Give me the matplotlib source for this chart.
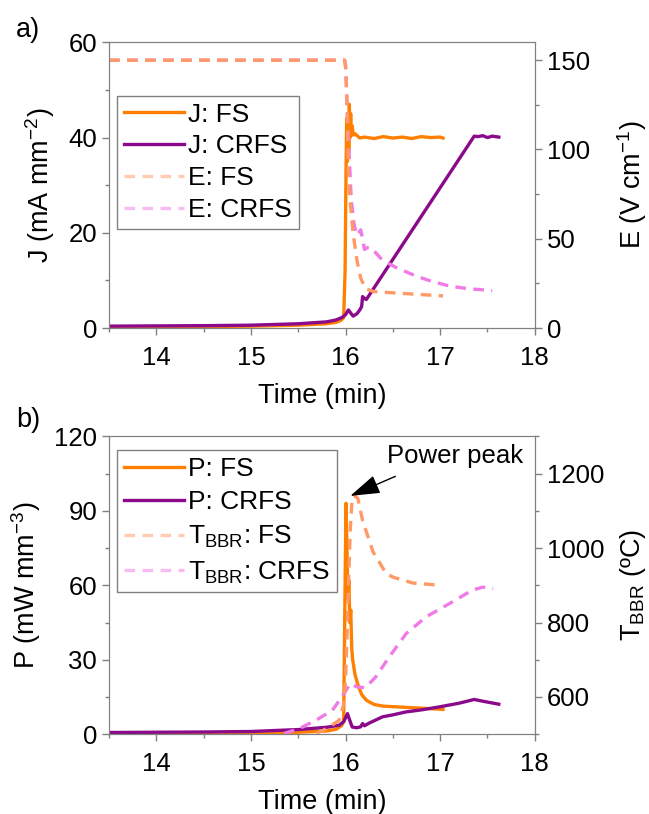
import matplotlib
matplotlib.use('Agg')
import matplotlib.pyplot as plt
from matplotlib.ticker import MultipleLocator

plt.rcParams['font.family'] = ['Liberation Sans', 'DejaVu Sans']
plt.rcParams['mathtext.fontset'] = 'custom'
plt.rcParams['mathtext.rm'] = 'Liberation Sans'
plt.rcParams['mathtext.it'] = 'Liberation Sans:italic'
plt.rcParams['mathtext.default'] = 'regular'

# a) 电流密度 J 和电场 E
j_fs_t = [13.5, 14.0, 14.5, 15.0, 15.5, 15.8, 15.9, 15.95, 15.98, 15.995, 16.005, 16.012, 16.02, 16.027,
          16.034, 16.04, 16.047, 16.054, 16.06, 16.07, 16.08, 16.1, 16.15, 16.2, 16.3, 16.4, 16.5, 16.6,
          16.7, 16.8, 16.9, 17.0, 17.03]
j_fs = [0.2, 0.25, 0.3, 0.4, 0.6, 0.9, 1.2, 1.6, 2.2, 12, 33, 44, 35, 45, 37, 47, 40, 45, 41, 42.5, 40.5,
        40.8, 39.9, 40.1, 39.8, 40.2, 39.9, 40.1, 39.8, 40.2, 40.0, 40.1, 39.9]

j_crfs_t = [13.5, 14.0, 14.5, 15.0, 15.5, 15.8, 15.9, 15.96, 16.0, 16.03, 16.06, 16.08, 16.12, 16.15,
            16.17, 16.18, 16.2, 16.22, 17.36, 17.4, 17.45, 17.5, 17.55, 17.62]
j_crfs = [0.4, 0.45, 0.5, 0.6, 0.9, 1.3, 1.7, 2.2, 2.8, 3.8, 3.0, 2.5, 3.0, 3.8, 4.5, 6.6, 6.2, 6.0,
          40.3, 40.2, 40.4, 40.0, 40.3, 40.1]

e_fs_t = [13.5, 15.99, 16.0, 16.01, 16.02, 16.03, 16.05, 16.08, 16.12, 16.16, 16.21, 16.3, 16.57, 17.03]
e_fs = [150, 150, 146, 135, 115, 85, 70, 53, 38, 28, 22, 20.4, 19.5, 18]

e_crfs_t = [13.5, 15.99, 16.0, 16.02, 16.04, 16.06, 16.09, 16.12, 16.16, 16.18, 16.2, 16.23, 16.27,
            16.39, 16.53, 16.75, 16.92, 17.1, 17.3, 17.55]
e_crfs = [150, 150, 147, 120, 95, 72, 58, 52, 55, 50, 44, 45, 45, 38, 34, 29, 26, 23.5, 22, 21]

# b) 功率密度 P 和温度 T_BBR
p_fs_t = [13.5, 14.0, 14.5, 15.0, 15.5, 15.8, 15.9, 15.96, 15.98, 15.995, 16.005, 16.015, 16.025,
          16.035, 16.045, 16.055, 16.065, 16.075, 16.1, 16.13, 16.17, 16.22, 16.3, 16.4, 16.7, 17.03]
p_fs = [0.3, 0.3, 0.4, 0.5, 0.8, 1.3, 2.0, 3.5, 5.5, 60, 93, 75, 55, 62, 45, 50, 35, 30, 24, 20, 16,
        13.7, 12, 11.3, 10.7, 10]

p_crfs_t = [13.5, 14.0, 14.5, 15.0, 15.51, 15.8, 15.93, 15.98, 16.02, 16.05, 16.07, 16.12, 16.16,
            16.18, 16.2, 16.25, 16.39, 16.5, 16.64, 16.8, 16.99, 17.2, 17.36, 17.45, 17.62]
p_crfs = [0.7, 0.8, 0.9, 1.1, 1.9, 2.8, 3.6, 5.0, 8.3, 5.0, 2.9, 2.6, 3.0, 4.3, 3.4, 4.5, 7.0, 7.8,
          9.0, 9.8, 11.0, 12.5, 14.0, 13.3, 12.1]

t_fs_t = [15.69, 15.8, 15.93, 15.98, 16.0, 16.02, 16.03, 16.05, 16.07, 16.1, 16.13, 16.18, 16.29,
          16.43, 16.5, 16.71, 17.0]
t_fs = [502, 515, 537, 580, 645, 800, 895, 1050, 1137, 1140, 1133, 1074, 990, 931, 922, 906, 900]

t_crfs_t = [15.35, 15.51, 15.69, 15.86, 15.96, 16.05, 16.12, 16.21, 16.32, 16.46, 16.64, 16.85,
            17.1, 17.34, 17.45, 17.56]
t_crfs = [502, 515, 538, 564, 600, 636, 627, 625, 654, 707, 770, 815, 851, 887, 895, 891]

c_fs = '#ff8000'
c_crfs = '#8b0a8b'
c_fs2 = '#ff9966'
c_crfs2 = '#f07ae6'
grey = '#808080'
fs = 18.5
lfs = 19.5
dash = (0, (3.2, 2.2))
leg_kw = dict(loc='upper left', fontsize=19, frameon=True, fancybox=False, edgecolor=grey,
              framealpha=1, handlelength=2.3, handletextpad=0.15, borderpad=0.25,
              borderaxespad=0.3)

fig = plt.figure(figsize=(6.49, 8.14), dpi=100)
ax1 = fig.add_axes([0.168, 0.597, 0.656, 0.351])
ax3 = fig.add_axes([0.168, 0.098, 0.656, 0.366])


def style(ax, ax2):
    for a in (ax, ax2):
        for s in a.spines.values():
            s.set_color(grey)
        a.tick_params(which='both', direction='out', color=grey, labelsize=fs)
        a.tick_params(which='major', length=5, width=1)
        a.tick_params(which='minor', length=3, width=1)
    ax.tick_params(axis='x', which='major', pad=8)
    ax.set_xlim(13.5, 18)
    ax.xaxis.set_major_locator(MultipleLocator(1))
    ax.xaxis.set_minor_locator(MultipleLocator(0.5))
    ax.set_xlabel('Time (min)', fontsize=lfs, labelpad=9)


ax2 = ax1.twinx()
l1, = ax1.plot(j_fs_t, j_fs, color=c_fs, lw=2.4, label='J: FS')
l2, = ax1.plot(j_crfs_t, j_crfs, color=c_crfs, lw=2.4, label='J: CRFS')
l4, = ax2.plot(e_crfs_t, e_crfs, color=c_crfs2, lw=2.4, ls=dash, label='E: CRFS')
l3, = ax2.plot(e_fs_t, e_fs, color=c_fs2, lw=2.4, ls=dash, label='E: FS')
ax1.set_ylim(0, 60)
ax1.yaxis.set_major_locator(MultipleLocator(20))
ax1.yaxis.set_minor_locator(MultipleLocator(10))
ax2.set_ylim(0, 160)
ax2.yaxis.set_major_locator(MultipleLocator(50))
ax2.yaxis.set_minor_locator(MultipleLocator(25))
ax1.set_ylabel('J (mA mm$^{-2}$)', fontsize=lfs, labelpad=8)
ax2.set_ylabel('E (V cm$^{-1}$)', fontsize=lfs, labelpad=18)
style(ax1, ax2)
leg = ax2.legend(handles=[l1, l2, l3, l4], bbox_to_anchor=(0.0, 0.84), labelspacing=0.3, **leg_kw)
leg.get_frame().set_linewidth(1)
leg.get_lines()[2].set_alpha(0.5)
leg.get_lines()[3].set_alpha(0.5)

ax4 = ax3.twinx()
m1, = ax3.plot(p_fs_t, p_fs, color=c_fs, lw=2.4, label='P: FS')
m2, = ax3.plot(p_crfs_t, p_crfs, color=c_crfs, lw=2.4, label='P: CRFS')
m4, = ax4.plot(t_crfs_t, t_crfs, color=c_crfs2, lw=2.4, ls=dash, label='T$_{BBR}$: CRFS')
m3, = ax4.plot(t_fs_t, t_fs, color=c_fs2, lw=2.4, ls=dash, label='T$_{BBR}$: FS')
ax3.set_ylim(0, 120)
ax3.yaxis.set_major_locator(MultipleLocator(30))
ax3.yaxis.set_minor_locator(MultipleLocator(15))
ax4.set_ylim(500, 1300)
ax4.yaxis.set_major_locator(MultipleLocator(200))
ax4.yaxis.set_minor_locator(MultipleLocator(100))
ax4.set_yticks([600, 800, 1000, 1200])
ax3.set_ylabel('P (mW mm$^{-3}$)', fontsize=lfs, labelpad=8)
ax4.set_ylabel('T$_{BBR}$ (ºC)', fontsize=lfs, labelpad=10)
style(ax3, ax4)
leg2 = ax4.legend(handles=[m1, m2, m3, m4], bbox_to_anchor=(0.0, 0.98), labelspacing=0.36,
                  **leg_kw)
leg2.get_frame().set_linewidth(1)
leg2.get_lines()[2].set_alpha(0.5)
leg2.get_lines()[3].set_alpha(0.5)

ax4.annotate('Power peak', xy=(16.05, 1140), xytext=(16.44, 1215), fontsize=18.5,
             ha='left', va='bottom',
             arrowprops=dict(arrowstyle='-|>,head_length=1.0,head_width=0.32', color='black',
                             lw=1, shrinkA=0, shrinkB=0, relpos=(0.06, -0.35)))

fig.text(0.025, 0.955, 'a)', fontsize=lfs)
fig.text(0.025, 0.475, 'b)', fontsize=lfs)

fig.savefig('out.png', dpi=100)
